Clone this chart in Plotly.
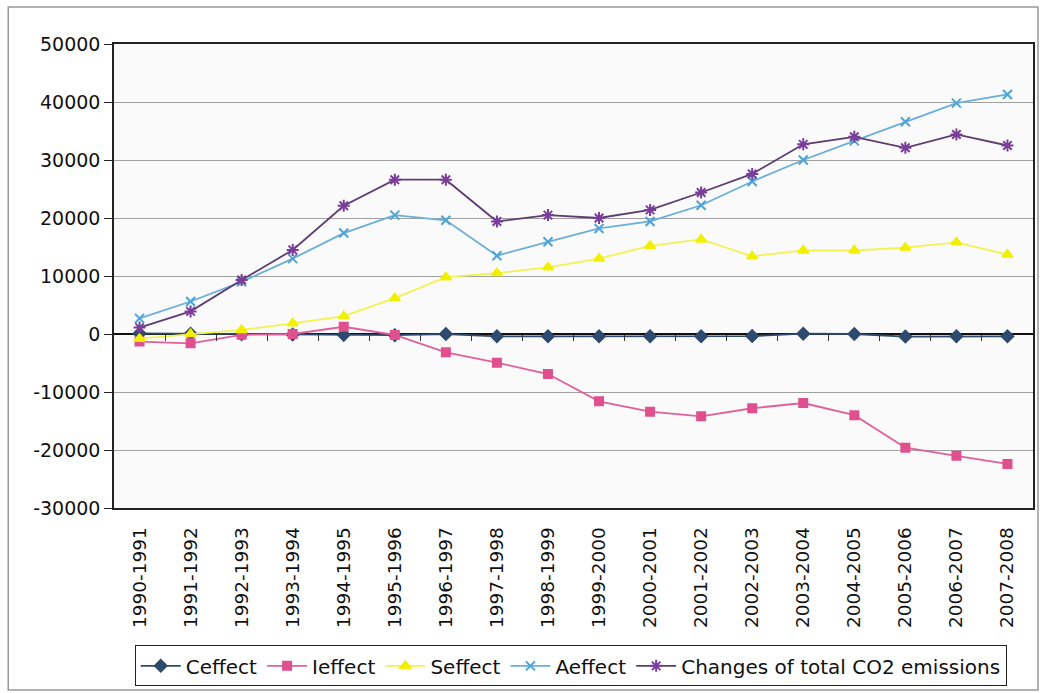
import plotly.graph_objects as go

# Decomposition of CO2 emission changes by period
periods = [
    "1990-1991", "1991-1992", "1992-1993", "1993-1994", "1994-1995", "1995-1996",
    "1996-1997", "1997-1998", "1998-1999", "1999-2000", "2000-2001", "2001-2002",
    "2002-2003", "2003-2004", "2004-2005", "2005-2006", "2006-2007", "2007-2008",
]
c_effect = [100, 50, -50, -100, -150, -200, 0, -400, -400, -400, -400, -400,
            -350, 50, 0, -450, -400, -400]
i_effect = [-1300, -1600, -150, 0, 1250, -170, -3150, -4950, -6900, -11600, -13400,
            -14200, -12800, -11900, -14000, -19600, -21000, -22400]
s_effect = [-800, 0, 700, 1850, 3100, 6200, 9800, 10500, 11500, 13000, 15200,
            16300, 13400, 14400, 14400, 14900, 15800, 13700]
a_effect = [2700, 5600, 9000, 13000, 17400, 20500, 19600, 13500, 15900, 18200, 19400,
            22200, 26300, 30000, 33300, 36600, 39800, 41300]
total_change = [1100, 3900, 9300, 14500, 22100, 26600, 26600, 19400, 20500, 20000, 21400,
                24400, 27600, 32700, 34000, 32100, 34400, 32500]

y_ticks = [-30000, -20000, -10000, 0, 10000, 20000, 30000, 40000, 50000]
y_tick_labels = [str(v) for v in y_ticks]

series = [
    ("Ceffect", c_effect, "#2E4A6E", "#2E4A6E", "diamond", 9),
    ("Ieffect", i_effect, "#E0609A", "#E0508E", "square", 8),
    ("Seffect", s_effect, "#F2F250", "#F0F000", "triangle-up", 9),
    ("Aeffect", a_effect, "#6AAFD8", "#4FA3D6", "x-thin-open", 9),
    ("Changes of total CO2 emissions", total_change, "#5E3C70", "#7A3D9A", "asterisk-open", 10),
]

fig = go.Figure()
for name, vals, line_col, mk_col, symbol, size in series:
    fig.add_trace(go.Scatter(
        x=periods, y=vals, name=name, mode="lines+markers",
        line=dict(color=line_col, width=1.8),
        marker=dict(symbol=symbol, size=size, color=mk_col,
                    line=dict(color=mk_col, width=2)),
    ))

# placeholder trace on the overlay axis that carries the tick marks along the zero line
fig.add_trace(go.Scatter(x=[0], y=[None], xaxis="x2", showlegend=False,
                         hoverinfo="skip", mode="markers"))

family = "DejaVu Sans, Verdana, sans-serif"
font = dict(family=family, size=19, color="#111111")

fig.update_layout(
    width=1042, height=693,
    margin=dict(l=114, r=7, t=44, b=185),
    paper_bgcolor="white",
    plot_bgcolor="#FAFAFA",
    font=font,
    showlegend=True,
    legend=dict(
        orientation="h", x=0.497, xanchor="center", y=-0.296, yanchor="top",
        bordercolor="#222222", borderwidth=1, bgcolor="white",
        font=dict(family=family, size=20, color="#111111"),
        itemwidth=40, tracegroupgap=0,
    ),
    xaxis=dict(
        type="category", categoryorder="array", categoryarray=periods,
        range=[-0.5, len(periods) - 0.5],
        tickangle=-90, ticks="", showgrid=False, ticklabelstandoff=10,
        showline=True, linecolor="#222222", linewidth=1.5, mirror=True,
        tickfont=dict(family=family, size=18.5, color="#111111"),
    ),
    xaxis2=dict(
        overlaying="x", anchor="free", position=3 / 8,
        range=[-0.5, len(periods) - 0.5],
        tickmode="array", tickvals=[i + 0.5 for i in range(len(periods) - 1)],
        ticks="outside", ticklen=6, tickwidth=1.2, tickcolor="#333333",
        showticklabels=False, showgrid=False, showline=False, zeroline=False,
    ),
    yaxis=dict(
        range=[-30000, 50000], tickmode="array", tickvals=y_ticks, ticktext=y_tick_labels,
        showgrid=True, gridcolor="#A0A0A0", gridwidth=1,
        zeroline=True, zerolinecolor="#111111", zerolinewidth=1.5,
        showline=True, linecolor="#222222", linewidth=1.5, mirror=True,
        ticks="outside", ticklen=8, tickcolor="#222222",
        tickfont=font,
    ),
    shapes=[
        dict(type="rect", xref="paper", yref="paper",
             x0=(8 - 114) / 921, x1=(1040 - 114) / 921,
             y0=(508 - 690) / 464, y1=(508 - 7) / 464,
             line=dict(color="#999999", width=1.5), fillcolor="rgba(0,0,0,0)",
             layer="below"),
    ],
)

fig.write_html("out.html")
